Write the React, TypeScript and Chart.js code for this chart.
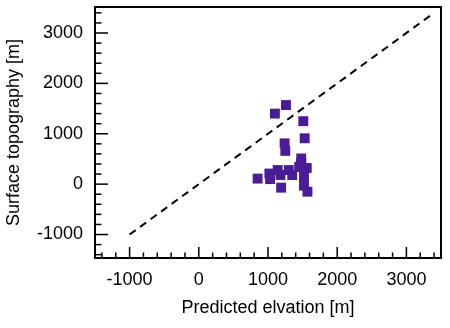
import React, { useEffect, useRef } from "react";
import { Chart, registerables } from "chart.js";

Chart.register(...registerables);

// Data
const predictedElevation = [1260, 1100, 1510, 1530, 1240, 1250, 1480, 1480, 1450, 1560, 1300, 1140, 1020, 850, 1030, 1180, 1350, 1520, 1190, 1520, 1570];
const surfaceTopography = [1570, 1400, 1250, 910, 810, 660, 510, 420, 340, 320, 280, 280, 210, 110, 100, 180, 180, 150, -70, -30, -150];
const oneToOneLine = [-1000, 3400];

const xMajorTicks = [-1000, 0, 1000, 2000, 3000];
const yMajorTicks = [-1000, 0, 1000, 2000, 3000];
const minorStep = 200;
const xLimits = [-1500, 3500];
const yLimits = [-1466, 3516];

const FONT = "'Liberation Sans', Arial, Helvetica, sans-serif";

const frameTicksPlugin = {
  id: "frameTicks",
  afterDatasetsDraw(chart: any) {
    const { ctx, chartArea } = chart;
    const xs = chart.scales.x;
    const ys = chart.scales.y;
    const { left, right, top, bottom } = chartArea;
    ctx.save();
    ctx.strokeStyle = "#000";
    ctx.lineCap = "butt";
    ctx.lineWidth = 1.5;
    for (let v = -1400; v <= 3400; v += minorStep) {
      const px = xs.getPixelForValue(v);
      if (px <= left + 1 || px >= right - 1) continue;
      const major = xMajorTicks.includes(v);
      const len = major ? 11 : 5.5;
      ctx.beginPath();
      ctx.moveTo(px, bottom);
      ctx.lineTo(px, bottom - len);
      ctx.stroke();
    }
    for (let v = -1400; v <= 3400; v += minorStep) {
      const py = ys.getPixelForValue(v);
      if (py <= top + 1 || py >= bottom - 1) continue;
      const major = yMajorTicks.includes(v);
      const len = major ? 13 : 6.5;
      ctx.beginPath();
      ctx.moveTo(left, py);
      ctx.lineTo(left + len, py);
      ctx.stroke();
    }
    ctx.lineWidth = 2;
    ctx.strokeRect(left, top, right - left, bottom - top);
    ctx.restore();
  },
};

export default function App() {
  const ref = useRef<HTMLCanvasElement | null>(null);
  useEffect(() => {
    document.body.style.margin = "0";
    if (!ref.current) return;
    const chart = new Chart(ref.current, {
      type: "scatter",
      data: {
        datasets: [
          {
            label: "points",
            data: predictedElevation.map((x, i) => ({ x, y: surfaceTopography[i] })),
            backgroundColor: "#4a1c96",
            borderColor: "#4a1c96",
            borderWidth: 0,
            pointStyle: "rect",
            pointRadius: 7,
            order: 0,
          },
          {
            label: "1:1",
            data: oneToOneLine.map((v) => ({ x: v, y: v })),
            showLine: true,
            borderColor: "#000",
            borderWidth: 2,
            borderDash: [7.5, 5.5],
            pointRadius: 0,
            order: 1,
          } as any,
        ],
      },
      options: {
        responsive: false,
        animation: false,
        layout: { padding: { top: 7, right: 9, bottom: 0, left: 0 } },
        plugins: { legend: { display: false }, tooltip: { enabled: false } },
        scales: {
          x: {
            type: "linear",
            min: xLimits[0],
            max: xLimits[1],
            grid: { display: false, drawTicks: false },
            border: { display: false },
            afterBuildTicks: (s: any) => {
              s.ticks = xMajorTicks.map((value) => ({ value }));
            },
            afterFit: (s: any) => {
              s.height = 70;
              s.paddingLeft = 0;
              s.paddingRight = 0;
            },
            ticks: {
              color: "#000",
              padding: 11,
              maxRotation: 0,
              font: { family: FONT, size: 18 },
              callback: (v: any) => String(v),
            },
            title: {
              display: true,
              text: "Predicted elvation [m]",
              color: "#000",
              font: { family: FONT, size: 18 },
              padding: { top: 0, bottom: 9 },
            },
          },
          y: {
            type: "linear",
            min: yLimits[0],
            max: yLimits[1],
            grid: { display: false, drawTicks: false },
            border: { display: false },
            afterBuildTicks: (s: any) => {
              s.ticks = yMajorTicks.map((value) => ({ value }));
            },
            afterFit: (s: any) => {
              s.width = 95;
              s.paddingTop = 0;
              s.paddingBottom = 0;
            },
            ticks: {
              color: "#000",
              padding: 12,
              font: { family: FONT, size: 18 },
              callback: (v: any) => String(v),
            },
            title: {
              display: true,
              text: "Surface topography [m]",
              color: "#000",
              font: { family: FONT, size: 18 },
              padding: { top: 3, bottom: 0 },
            },
          },
        },
      },
      plugins: [frameTicksPlugin],
    } as any);
    return () => chart.destroy();
  }, []);
  return (
    <div style={{ width: 450, height: 328 }}>
      <canvas ref={ref} width={450} height={328} style={{ display: "block" }} />
    </div>
  );
}
